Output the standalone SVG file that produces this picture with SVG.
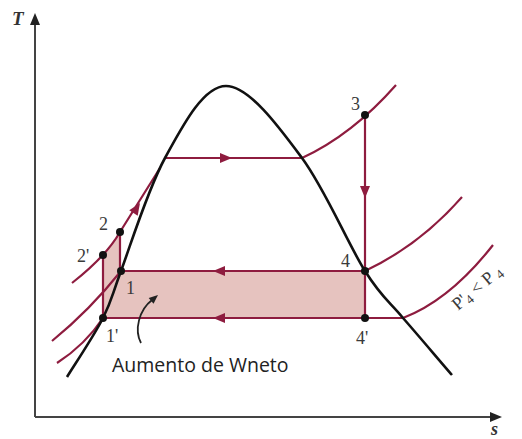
<svg xmlns="http://www.w3.org/2000/svg" width="522" height="439" viewBox="0 0 522 439">
<style>
.ax{stroke:#444;stroke-width:2;fill:none}
.dome{stroke:#111;stroke-width:2.6;fill:none}
.cy{stroke:#8e1c3f;stroke-width:2.2;fill:none}
.ah{fill:#8e1c3f}
.pt{fill:#111}
.lbl{font-family:"Liberation Serif","DejaVu Serif",serif;font-size:18px;fill:#3a3a3a}
.ital{font-family:"Liberation Serif","DejaVu Serif",serif;font-style:italic;font-weight:bold;fill:#333}
.note{font-family:"Open Sans","Noto Sans",sans-serif;font-size:19.5px;fill:#222}
</style>
<defs>
<path id="head" d="M0,0 L-12,-5 L-12,5 Z"/>
<path id="axhead" d="M0,0 L-12,-5 L-12,5 Z"/>
</defs>
<g id="axes">
<line class="ax" x1="35" y1="417" x2="35" y2="20"/>
<use href="#axhead" fill="#222" transform="translate(35,13) rotate(-90)"/>
<line class="ax" x1="35" y1="417" x2="494" y2="417"/>
<use href="#axhead" fill="#222" transform="translate(502,417)"/>
<text class="ital" x="12" y="25" font-size="19">T</text>
<text class="ital" x="491" y="435" font-size="18">s</text>
</g>
<g id="work-area">
<path d="M103,255 Q112,244 120,232 L121,271 L365,271 L365,318 L103,318 Z" fill="#e6c3bf" stroke="none"/>
</g>
<g id="connectors">
<path class="cy" d="M72,283 C95,265 112,246 120,232 C130,216 145,192 160,168"/>
<use href="#head" class="ah" transform="translate(140,203) rotate(-57)"/>
<path class="cy" d="M52,341 Q90,310 121,271"/>
<path class="cy" d="M57,363 Q85,345 103,318"/>
<line class="cy" x1="103" y1="255" x2="103" y2="318"/>
<line class="cy" x1="120" y1="232" x2="120" y2="271"/>
<line class="cy" x1="165" y1="158" x2="302" y2="158"/>
<use href="#head" class="ah" transform="translate(232,158)"/>
<path class="cy" d="M302,158 Q352,135 396,85"/>
<line class="cy" x1="365" y1="115" x2="365" y2="318"/>
<use href="#head" class="ah" transform="translate(365,198) rotate(90)"/>
<line class="cy" x1="121" y1="271" x2="365" y2="271"/>
<use href="#head" class="ah" transform="translate(213,271) rotate(180)"/>
<line class="cy" x1="103" y1="318" x2="403" y2="318"/>
<use href="#head" class="ah" transform="translate(213,318) rotate(180)"/>
<path class="cy" d="M365,271 Q420,245 462,197"/>
<path class="cy" d="M403,318 Q450,300 493,245"/>
</g>
<g id="dome">
<path class="dome" d="M67,377 C73,367 94,336 103,318 C112,300 111,298 121,271 C131,244 148,189 165,158 C182,127 203,86 226,86 C249,86 279,127 302,158 C325,189 348,244 365,271 C382,298 389,301 403,318 C418,335 444,366 452,375"/>
</g>
<g id="note">
<path d="M141,343 C134,330 139,310 152,300" stroke="#222" stroke-width="1.8" fill="none"/>
<use href="#head" fill="#222" transform="translate(158,295) rotate(-40) scale(0.75)"/>
<text class="note" x="112" y="372">Aumento de Wneto</text>
</g>
<g id="p2"><circle class="pt" cx="120" cy="232" r="4"/><text class="lbl" x="99" y="230">2</text></g>
<g id="p2prime"><circle class="pt" cx="103" cy="255" r="4"/><text class="lbl" x="77" y="262">2'</text></g>
<g id="p1"><circle class="pt" cx="121" cy="271" r="4"/><text class="lbl" x="126" y="294">1</text></g>
<g id="p1prime"><circle class="pt" cx="103" cy="318" r="4"/><text class="lbl" x="106" y="342">1'</text></g>
<g id="p3"><circle class="pt" cx="365" cy="115" r="4"/><text class="lbl" x="351" y="110">3</text></g>
<g id="p4"><circle class="pt" cx="365" cy="271" r="4"/><text class="lbl" x="341" y="267">4</text></g>
<g id="p4prime"><circle class="pt" cx="365" cy="318" r="4"/><text class="lbl" x="356" y="344">4'</text></g>
<g id="pressure-label">
<text class="lbl" font-size="20" transform="translate(458,311) rotate(-40)">P'<tspan font-size="13" dy="3">4</tspan><tspan dy="-3"> &lt; P </tspan><tspan font-size="13" dy="3">4</tspan></text>
</g>
</svg>
